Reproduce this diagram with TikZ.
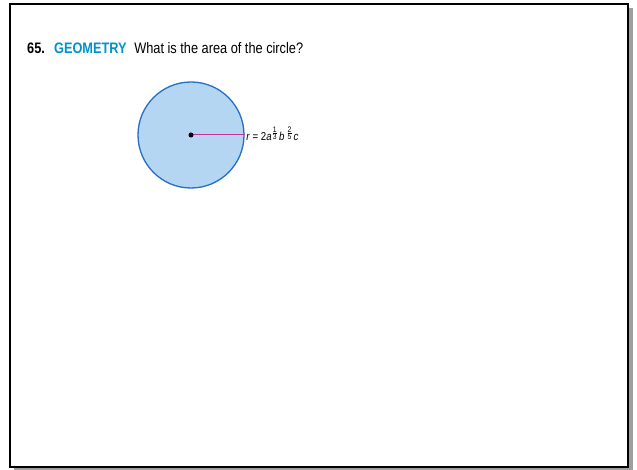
\documentclass[tikz,border=0pt]{standalone}
\usepackage{fontspec}
\setmainfont{Liberation Sans}[FakeStretch=0.84]
\usetikzlibrary{positioning}
\definecolor{geoblue}{RGB}{0,146,207}
\definecolor{diskfill}{RGB}{180,214,242}
\definecolor{diskline}{RGB}{38,112,196}
\definecolor{radline}{RGB}{200,50,150}
\newcommand{\expfrac}[2]{$^{\frac{\scriptstyle\mathrm{#1}}{\scriptstyle\mathrm{#2}}}$}

\begin{document}
\begin{tikzpicture}[
    x=1pt,y=-1pt,
    pageframe/.style={draw=black,fill=white,line width=2pt},
    disk/.style={circle,draw=diskline,fill=diskfill,line width=1.3pt,inner sep=0pt,minimum size=106pt},
]
    \useasboundingbox (0,0) rectangle (637,470);
    \fill[gray!75] (14,8) rectangle (633,470.5);
    \draw[pageframe] (10,4) rectangle (628,467);
    \node[anchor=base west,inner sep=0pt,font=\fontsize{15.2}{17}\selectfont] (title) at (27,54)
        {\textbf{65.}\hspace{0.6em}\textcolor{geoblue}{\textbf{GEOMETRY}}\hspace{0.5em}What is the area of the circle?};
    \node[disk] (circ) at (191,135) {};
    \draw[radline,line width=1pt] (circ.center) -- (circ.east);
    \node[circle,fill=black,inner sep=0pt,minimum size=5pt] (ctr) at (circ.center) {};
    \node[anchor=base west,inner sep=1.5pt,font=\fontsize{11.5}{13}\selectfont] (rlabel) at ([yshift=-6pt]circ.east)
        {\textit{r} = 2\textit{a}\expfrac{1}{3}\textit{b}\,\expfrac{2}{5}\textit{c}};
\end{tikzpicture}
\end{document}
